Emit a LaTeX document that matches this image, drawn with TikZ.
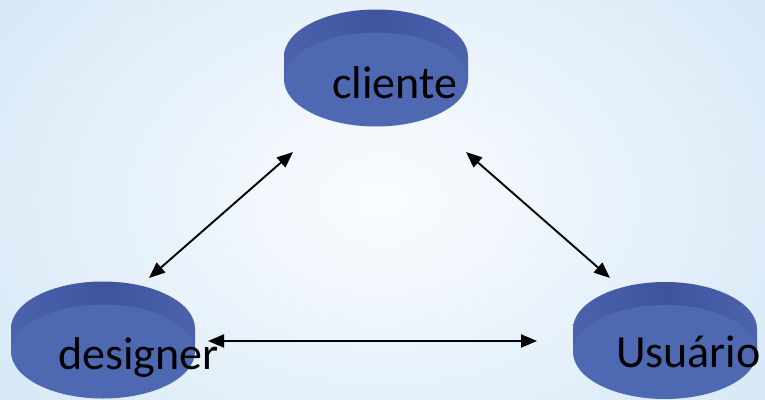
\documentclass[tikz,border=0pt]{standalone}
\usepackage{fontspec}
\setmainfont{Carlito}
\usetikzlibrary{arrows.meta}
\definecolor{bgedge}{RGB}{214,232,246}
\definecolor{bgmid}{RGB}{250,252,255}
\definecolor{puckside}{RGB}{76,98,172}
\definecolor{puckmid}{RGB}{64,84,158}
\definecolor{puckface}{RGB}{78,104,178}
\tikzset{
  arr/.style={>={Triangle[length=16pt,width=13pt]}, <->, line width=1.9pt, black},
  lbl/.style={anchor=base west, inner sep=0pt, font=\fontsize{46}{50}\selectfont, text=black}
}
\newcommand{\puck}[3]{%
  \shade[left color=puckside, right color=puckside, middle color=puckmid]
    (#2-92,#3-23) arc[start angle=180, end angle=0, x radius=92pt, y radius=47pt]
    -- (#2+92,#3) -- (#2-92,#3) -- cycle;
  \fill[puckface] (#2,#3) ellipse[x radius=92pt, y radius=47pt];
  \coordinate (#1) at (#2,#3);
}
\begin{document}
\begin{tikzpicture}[x=1pt,y=-1pt]
\useasboundingbox (0,0) rectangle (765,399);
\shade[inner color=bgmid, outer color=bgedge] (-100,-150) rectangle (865,549);
\puck{pc}{376}{79.5}
\puck{pd}{103}{351.5}
\puck{pu}{665}{352}
\node[lbl] (cliente) at (332,98) {cliente};
\node[lbl] (designer) at (58,369) {designer};
\node[lbl] (usuario) at (616,367) {Usuário};
\coordinate (c1) at (293,152);
\coordinate (d1) at (149,278);
\coordinate (c2) at (466,152);
\coordinate (u1) at (610,278);
\coordinate (d2) at (208,341);
\coordinate (u2) at (537,341);
\draw[arr] (c1) -- (d1);
\draw[arr] (c2) -- (u1);
\draw[arr] (d2) -- (u2);
\end{tikzpicture}
\end{document}
